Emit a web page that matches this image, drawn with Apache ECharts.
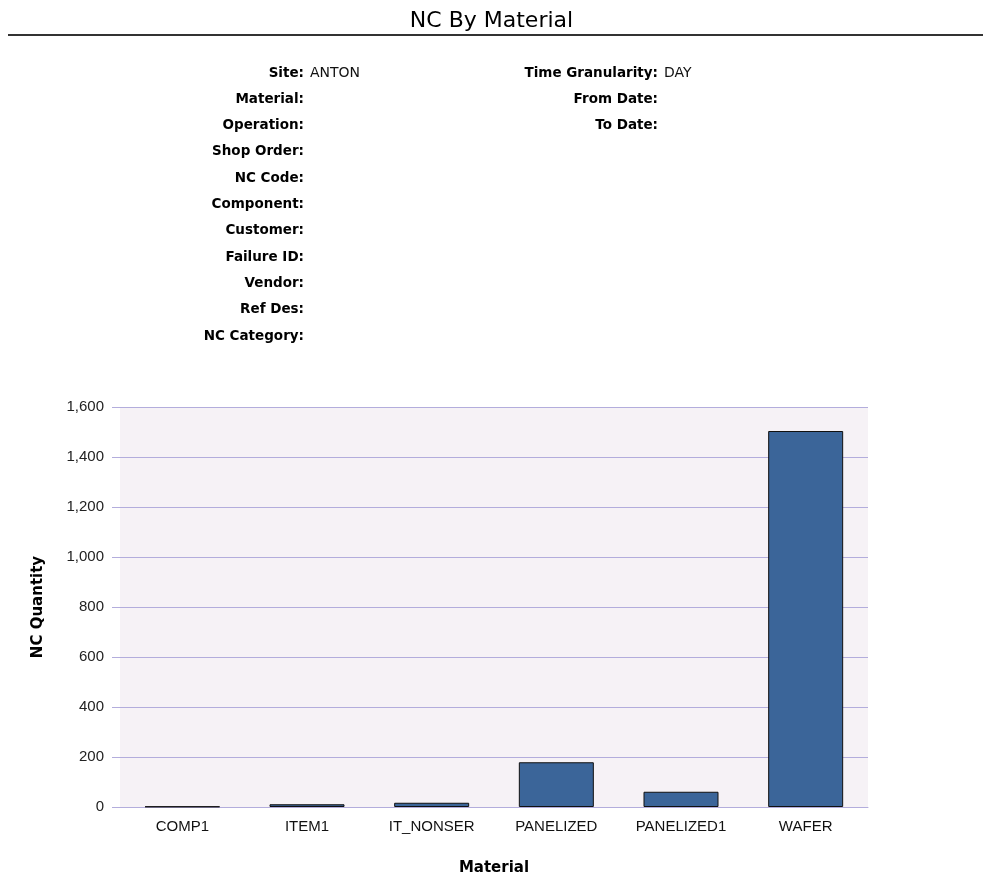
<!DOCTYPE html>
<html>
<head>
<meta charset="utf-8">
<script src="https://cdn.jsdelivr.net/npm/echarts@6/dist/echarts.min.js"></script>
<style>
html, body { margin: 0; padding: 0; background: #fff; }
#chart { width: 983px; height: 877px; }
</style>
</head>
<body>
<div id="chart"></div>
<script>
var materials = ['COMP1', 'ITEM1', 'IT_NONSER', 'PANELIZED', 'PANELIZED1', 'WAFER'];
var ncQty = [2, 11, 17, 179, 61, 1504];
// filter fields shown above the chart
var leftLabels = ['Site:', 'Material:', 'Operation:', 'Shop Order:', 'NC Code:', 'Component:',
    'Customer:', 'Failure ID:', 'Vendor:', 'Ref Des:', 'NC Category:'];
var leftValues = ['ANTON', '', '', '', '', '', '', '', '', '', ''];
var rightLabels = ['Time Granularity:', 'From Date:', 'To Date:'];
var rightValues = ['DAY', '', ''];

var myChart = echarts.init(document.getElementById('chart'));

// header text blocks
var graphics = [{
    type: 'line',
    shape: { x1: 8, y1: 35, x2: 983, y2: 35 },
    style: { stroke: '#333', lineWidth: 2 }
}];
function addField(label, value, x, y) {
    graphics.push({
        type: 'text', x: x, y: y,
        style: { text: label, font: 'bold 13.5px "DejaVu Sans"', fill: '#000', align: 'right', verticalAlign: 'middle' }
    });
    if (value) {
        graphics.push({
            type: 'text', x: x + 6, y: y,
            style: { text: value, font: '14px "DejaVu Sans"', fill: '#111', align: 'left', verticalAlign: 'middle' }
        });
    }
}
for (var i = 0; i < leftLabels.length; i++) {
    addField(leftLabels[i], leftValues[i], 304, 73 + i * 26.3);
}
for (var j = 0; j < rightLabels.length; j++) {
    addField(rightLabels[j], rightValues[j], 658, 73 + j * 26.3);
}

var gridColor = '#b3addc';

var option = {
    title: {
        text: 'NC By Material',
        left: 'center',
        top: 5,
        textStyle: { fontFamily: 'DejaVu Sans', fontSize: 22, fontWeight: 'normal', color: '#000' }
    },
    graphic: graphics,
    grid: {
        left: 120, right: 115, top: 407, bottom: 70,
        show: true,
        backgroundColor: '#f6f2f6',
        borderWidth: 0
    },
    xAxis: {
        type: 'category',
        data: materials,
        name: 'Material',
        nameLocation: 'middle',
        nameGap: 54,
        nameTextStyle: { fontFamily: 'DejaVu Sans', fontSize: 15, fontWeight: 'bold', color: '#000' },
        axisLine: { lineStyle: { color: gridColor, width: 1 } },
        axisTick: { show: false },
        axisLabel: { fontFamily: 'Liberation Sans', fontSize: 15, color: '#111', margin: 12 }
    },
    yAxis: {
        type: 'value',
        min: 0,
        max: 1600,
        interval: 200,
        name: 'NC Quantity',
        nameLocation: 'middle',
        nameRotate: 90,
        nameGap: 74,
        nameTextStyle: { fontFamily: 'DejaVu Sans', fontSize: 15, fontWeight: 'bold', color: '#000' },
        axisLine: { show: false },
        axisTick: { show: true, length: 8, lineStyle: { color: gridColor } },
        splitLine: { lineStyle: { color: gridColor, width: 1 } },
        axisLabel: {
            fontFamily: 'Liberation Sans', fontSize: 15, color: '#222', margin: 16,
            formatter: function (v) { return v.toLocaleString('en-US'); }
        }
    },
    series: [{
        type: 'bar',
        data: ncQty,
        barWidth: 75,
        itemStyle: { color: '#3b6599', borderColor: '#111', borderWidth: 1 }
    }],
    animation: false
};

myChart.setOption(option);
</script>
</body>
</html>
